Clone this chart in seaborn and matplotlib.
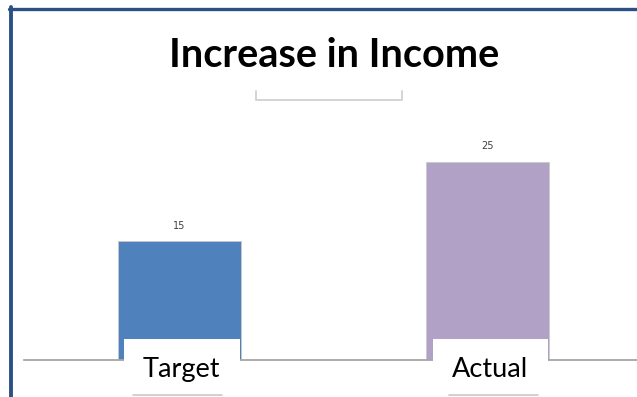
import matplotlib
matplotlib.use("Agg")
import matplotlib.pyplot as plt
import seaborn as sns
import pandas as pd
from matplotlib.lines import Line2D
from matplotlib.patches import Rectangle

categories = ["Target", "Actual"]
values = [15, 25]
colors = ["#4f81bd", "#b2a1c7"]
title = "Increase in Income"

sns.set_theme(style="white")
plt.rcParams['font.family'] = ['Lato', 'DejaVu Sans']

W, H = 637, 397
fig = plt.figure(figsize=(W / 100, H / 100), dpi=100)

def fx(px):
    return px / W

def fy(py):
    return 1 - py / H

# axes: baseline at y=360, spans x 24..637
ax_left, ax_right = 24, 637
ax_bottom, ax_top = 360, 100
ax = fig.add_axes([fx(ax_left), fy(ax_bottom), (ax_right - ax_left) / W, (ax_bottom - ax_top) / H])

df = pd.DataFrame({"cat": categories, "val": values})
sns.barplot(data=df, x="cat", y="val", hue="cat", palette=colors, width=0.4,
            legend=False, ax=ax, edgecolor="#c8c8c8", linewidth=0.6, saturation=1)

scale = 308.0
ax.set_xlim(-(179.5 - ax_left) / scale, 1 + (ax_right - 487.5) / scale)
ax.set_ylim(0, (ax_bottom - ax_top) / 7.93)

for side in ["top", "right", "left"]:
    ax.spines[side].set_visible(False)
ax.spines["bottom"].set_color("#a6a6a6")
ax.spines["bottom"].set_linewidth(1.3)
ax.set_xticks([])
ax.set_yticks([])
ax.set_xlabel("")
ax.set_ylabel("")

for i, v in enumerate(values):
    ax.annotate(str(v), (i, v), xytext=(0, 11), textcoords="offset points",
                ha="center", va="center", fontsize=7, color="#404040",
                family="DejaVu Sans")

# white boxes covering lower part of bars with labels
box_px = [(124, 240), (433, 548)]
for (l, r) in box_px:
    fig.patches.append(Rectangle((fx(l), 0), (r - l) / W, fy(339), transform=fig.transFigure,
                                 facecolor="white", edgecolor="none", zorder=5))
label_x = [181, 490]
label_y = [377, 377]
for i, cat in enumerate(categories):
    fig.text(fx(label_x[i]), fy(label_y[i]), cat, ha="center", va="baseline",
             fontsize=19.5, color="#000000", zorder=6)

# short gray lines under labels
for (l, r) in [(133, 222), (449, 538)]:
    fig.add_artist(Line2D([fx(l), fx(r)], [fy(394.5), fy(394.5)], color="#c8c8c8", lw=1.2,
                          transform=fig.transFigure, zorder=6))

# title
fig.text(fx(334), fy(67), title, ha="center", va="baseline", fontsize=28.5,
         fontweight="bold", color="#000000")

# bracket under title
fig.add_artist(Line2D([fx(256), fx(256), fx(402), fx(402)],
                      [fy(91), fy(99.5), fy(99.5), fy(91)], color="#d4d4d4", lw=1.4,
                      transform=fig.transFigure))

# frame borders
fig.add_artist(Line2D([fx(10.8), fx(10.8)], [fy(7), fy(397)], color="#2c5086", lw=2.8,
                      transform=fig.transFigure, zorder=7))
fig.add_artist(Line2D([fx(9), fx(637)], [fy(8.7), fy(8.7)], color="#2c5086", lw=2.4,
                      transform=fig.transFigure, zorder=7))

fig.savefig("out.png", dpi=100, facecolor="white")
